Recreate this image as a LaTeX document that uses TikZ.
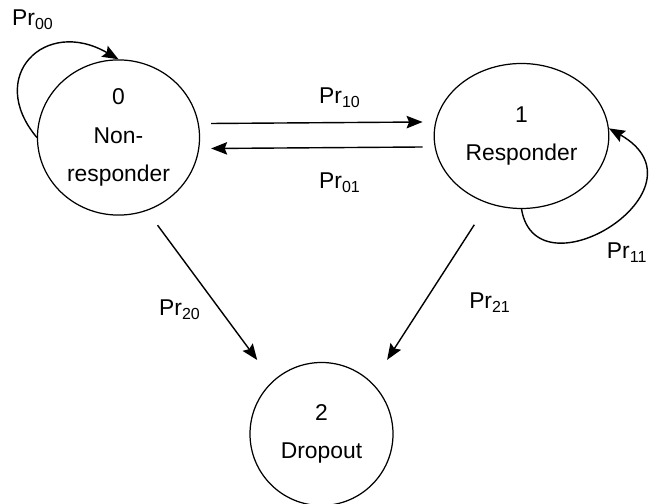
\documentclass[tikz,border=0pt]{standalone}
\usepackage{fontspec}
\setmainfont{Liberation Sans}
\usetikzlibrary{positioning, shapes.geometric, arrows.meta, calc}

\begin{document}
\begin{tikzpicture}[
  state/.style={ellipse, draw, line width=0.7pt, align=center, font=\fontsize{13}{22}\selectfont},
  prob/.style={font=\fontsize{13}{15}\selectfont},
  trans/.style={-{Stealth[length=3.2mm, width=2.5mm, inset=0.5mm]}, line width=0.8pt}
]
\useasboundingbox (0,0) rectangle (13.08,10.08);

% States
\node[state, minimum width=3.14cm, minimum height=2.96cm] (nonresp) at (2.37,7.33) {0\\Non-\\responder};
\node[state, minimum width=3.14cm, minimum height=2.9cm] (resp) at (10.43,7.36) {1\\Responder};
\node[state, minimum width=2.86cm, minimum height=2.86cm] (drop) at (6.43,1.40) {2\\Dropout};

% Transitions between states
\draw[trans] ([xshift=0.22cm, yshift=0.28cm]nonresp.east) -- ([xshift=-0.22cm, yshift=0.28cm]resp.west);
\draw[trans] ([xshift=-0.22cm, yshift=-0.22cm]resp.west) -- ([xshift=0.22cm, yshift=-0.22cm]nonresp.east);
\draw[trans] ($(nonresp.center)+(-66:1.92)$) -- ($(drop.center)+(131:1.96)$);
\draw[trans] ($(resp.center)+(242:2.01)$) -- ($(drop.center)+(48.5:1.98)$);

% Self loops
\draw[trans] (nonresp.west) .. controls +(130:1.6) and +(150:1.7) .. (nonresp.north);
\draw[trans] (resp.south) .. controls +(0.3,-1.8) and +(2.1,-1.2) .. (resp.5);

% Probabilities
\node[prob] (p00) at (0.66,9.68) {Pr\textsubscript{00}};
\node[prob] (p10) at (6.8,8.12) {Pr\textsubscript{10}};
\node[prob] (p01) at (6.8,6.42) {Pr\textsubscript{01}};
\node[prob, anchor=east] (p11) at (13.07,5.02) {Pr\textsubscript{11}};
\node[prob] (p20) at (3.6,3.88) {Pr\textsubscript{20}};
\node[prob] (p21) at (9.8,4.02) {Pr\textsubscript{21}};

\end{tikzpicture}
\end{document}
